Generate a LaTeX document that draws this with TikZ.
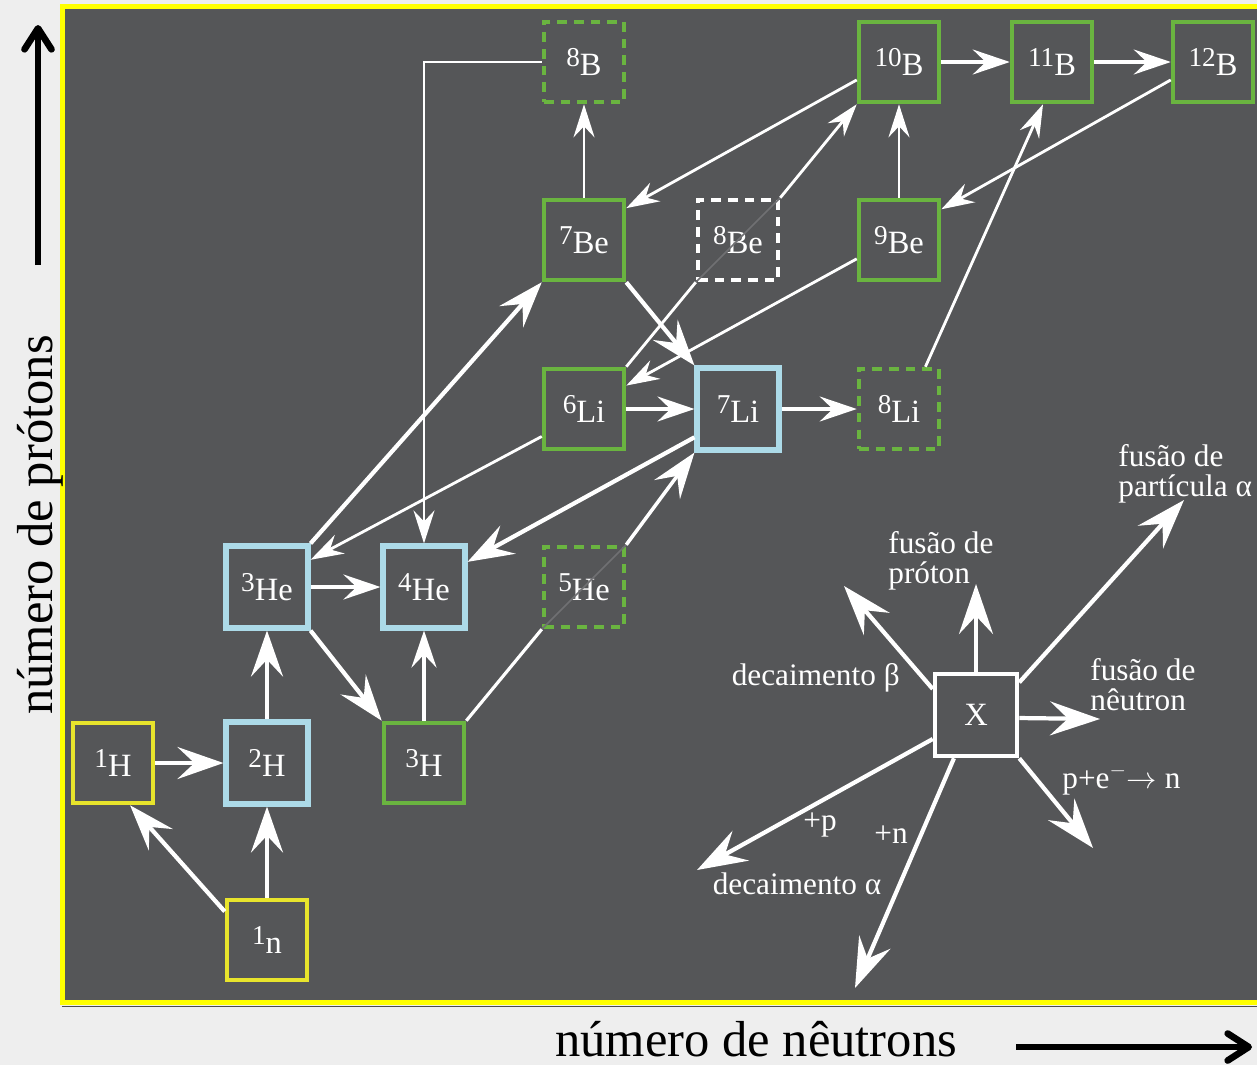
\documentclass[tikz,border=0pt]{standalone}
\usepackage{fontspec}
\setmainfont{Liberation Serif}
\usetikzlibrary{arrows.meta,calc}
\definecolor{panel}{RGB}{85,86,88}
\definecolor{bgout}{RGB}{238,238,238}
\definecolor{ngreen}{RGB}{106,180,64}
\definecolor{nblue}{RGB}{172,218,232}
\definecolor{nyellow}{RGB}{232,228,44}
\definecolor{frameyellow}{RGB}{255,255,0}
\definecolor{faint}{RGB}{112,112,115}
\newcommand\iso[2]{\raisebox{5pt}{\fontsize{15.5}{15.5}\selectfont #1}#2}
\begin{document}
\begin{tikzpicture}[x=0.02cm,y=-0.02cm,
 nuc/.style={minimum size=1.6cm, inner sep=0pt, line width=2.6pt, text=white, font=\fontsize{18.5}{19}\selectfont},
 gbox/.style={nuc,draw=ngreen},
 gdash/.style={gbox,dash pattern=on 5.5pt off 4pt},
 bbox/.style={nuc,draw=nblue,line width=3.2pt,minimum size=1.63cm},
 ybox/.style={nuc,draw=nyellow},
 wdash/.style={nuc,draw=white,dash pattern=on 5.5pt off 4pt},
 xbox/.style={nuc,draw=white,line width=2.6pt,minimum size=1.64cm,font=\fontsize{18.5}{19}\selectfont},
 big/.style={draw=white, line width=2.4pt, -{Stealth[length=0.92cm,width=0.64cm,inset=0.34cm]}},
 leg/.style={draw=white, line width=2.4pt, -{Stealth[length=1.0cm,width=0.68cm,inset=0.36cm]}},
 med/.style={draw=white, line width=1.8pt, -{Stealth[length=0.74cm,width=0.5cm,inset=0.26cm]}},
 sml/.style={draw=white, line width=1.6pt, -{Stealth[length=0.66cm,width=0.42cm,inset=0.22cm]}},
 plain/.style={draw=white, line width=1.6pt},
 faintline/.style={draw=faint, line width=0.9pt},
 lbl/.style={text=white, font=\fontsize{17.8}{16.6}\selectfont, inner sep=0pt},
 axlbl/.style={text=black, font=\fontsize{28.8}{30}\selectfont, inner sep=0pt},
 axis/.style={draw=black, line width=3.8pt, -{Straight Barb[length=0.42cm,width=0.54cm,round]}}
]
\useasboundingbox (0,0) rectangle (1257,1065);
\begin{scope}
\clip (0,0) rectangle (1257,1065);
\fill[bgout] (0,0) rectangle (1257,1065);
\fill[panel] (62.5,6.5) rectangle (1280,1002.5);
\draw[frameyellow, line width=2.8pt] (62.5,6.5) rectangle (1280,1002.5);
\draw[black!70, line width=0.6pt] (62,1006.5) -- (1257,1006.5);
\end{scope}

% nuclide boxes
\node[ybox]  (n1H)  at (113,763) {\iso{1}{H}};
\node[bbox]  (n2H)  at (267,763) {\iso{2}{H}};
\node[gbox]  (n3H)  at (424,763) {\iso{3}{H}};
\node[ybox]  (n1n)  at (267,940) {\iso{1}{n}};
\node[bbox]  (n3He) at (267,587) {\iso{3}{He}};
\node[bbox]  (n4He) at (424,587) {\iso{4}{He}};
\node[gdash] (n5He) at (584,587) {\iso{5}{He}};
\node[gbox]  (n6Li) at (584,409) {\iso{6}{Li}};
\node[bbox]  (n7Li) at (738,409) {\iso{7}{Li}};
\node[gdash] (n8Li) at (899,409) {\iso{8}{Li}};
\node[gbox]  (n7Be) at (584,240) {\iso{7}{Be}};
\node[wdash] (n8Be) at (738,240) {\iso{8}{Be}};
\node[gbox]  (n9Be) at (899,240) {\iso{9}{Be}};
\node[gdash] (n8B)  at (584,62)  {\iso{8}{B}};
\node[gbox]  (n10B) at (899,62)  {\iso{10}{B}};
\node[gbox]  (n11B) at (1052,62) {\iso{11}{B}};
\node[gbox]  (n12B) at (1213,62) {\iso{12}{B}};

% faint lines through unstable boxes
\draw[faintline] (n8Be.south west) -- (n8Be.north east);
\draw[faintline] (n5He.south west) -- (n5He.north east);

% connectors
\draw[big] (n1H.east) -- (n2H.west);
\draw[big] (n1n.146) -- (n1H.292);
\draw[big] (n1n.north) -- (n2H.south);
\draw[big] (n2H.north) -- (n3He.south);
\draw[med] (n3He.east) -- (n4He.west);
\draw[big] (n3He.south east) -- (n3H.north west);
\draw[med] (n3H.north) -- (n4He.south);
\draw[plain, line width=1.8pt] (n3H.north east) -- (n5He.south west);
\draw[big, line width=2pt] (n5He.north east) -- (n7Li.south west);
\draw[big] (n7Li.213) -- (n4He.30);
\draw[big] (n3He.north east) -- (n7Be.south west);
\draw[sml] (n6Li.213) -- (n3He.32);
\draw[med] (n6Li.east) -- (n7Li.west);
\draw[med] (n7Li.east) -- (n8Li.west);
\draw[big] (n7Be.south east) -- (n7Li.north west);
\draw[sml] (n7Be.north) -- (n8B.south);
\draw[sml, line width=1.3pt] (n8B.west) -| (n4He.north);
\draw[sml] (n10B.203) -- (n7Be.37);
\draw[plain] (n6Li.north east) -- (n8Be.south west);
\draw[sml] (n8Be.north east) -- (n10B.south west);
\draw[sml] (n9Be.north) -- (n10B.south);
\draw[sml] (n9Be.204) -- (n6Li.29);
\draw[med] (n10B.east) -- (n11B.west);
\draw[med] (n11B.east) -- (n12B.west);
\draw[sml] (n12B.203) -- (n9Be.36);
\draw[sml] (n8Li.58) -- (n11B.258);

% legend
\node[xbox] (nX) at (976,715) {X};
\coordinate (eU)  at (976,584);
\coordinate (eUL) at (844,586);
\coordinate (eUR) at (1184,500);
\coordinate (eR)  at (1100,719);
\coordinate (eDR) at (1093,848);
\coordinate (eDL) at (697,870);
\coordinate (eD)  at (855,988);
\draw[leg] (nX.north) -- (eU);
\draw[leg] (nX.149) -- (eUL);
\draw[leg] (nX.37) -- (eUR);
\draw[leg] (nX.356) -- (eR);
\draw[leg] (nX.south east) -- (eDR);
\draw[leg] (nX.209) -- (eDL);
\draw[leg] (nX.243) -- (eD);

\node[lbl, anchor=base west, align=left] (tP) at (888,583) {fusão de\\próton};
\node[lbl, anchor=base west, align=left] (tA) at (1118,496) {fusão de\\partícula α};
\node[lbl, anchor=base west, align=left] (tN) at (1090,710) {fusão de\\nêutron};
\node[lbl, anchor=base east] (tB) at (900,685) {decaimento β};
\node[lbl, anchor=base west] (tE) at (1062,788) {p+e\(^{-}\)\(\rightarrow\) n};
\node[lbl, anchor=base] (tp) at (820,830) {+p};
\node[lbl, anchor=base] (tn) at (891,843) {+n};
\node[lbl, anchor=base] (tD) at (797,894) {decaimento α};

% axes
\coordinate (vA) at (38,265);
\coordinate (vB) at (38,25);
\draw[axis] (vA) -- (vB);
\coordinate (hA) at (1016,1047);
\coordinate (hB) at (1252,1047);
\draw[axis] (hA) -- (hB);
\node[axlbl, rotate=90, anchor=base] (ty) at (52,525) {número de prótons};
\node[axlbl, anchor=base] (tx) at (756,1056) {número de nêutrons};
\end{tikzpicture}
\end{document}
